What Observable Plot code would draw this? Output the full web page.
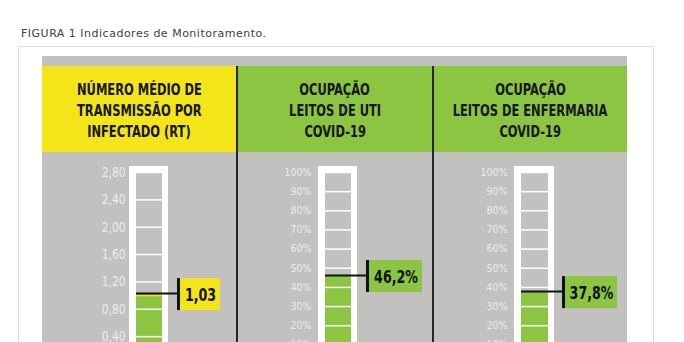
<!DOCTYPE html>
<html><head><meta charset="utf-8">
<script src="https://cdn.jsdelivr.net/npm/d3@7"></script>
<script src="https://cdn.jsdelivr.net/npm/@observablehq/plot@0.6"></script>
<style>
html,body{margin:0;padding:0;background:#fff;}
body{width:684px;height:342px;overflow:hidden;position:relative;font-family:"DejaVu Sans Condensed",sans-serif;}
.abs{position:absolute;}
#title{left:21px;top:27px;font-size:11px;letter-spacing:0.5px;color:#404040;font-family:"DejaVu Sans",sans-serif;white-space:nowrap;}
#border{left:18px;top:46px;width:634px;height:320px;border:1px solid #dcdcdc;}
#panel{left:42px;top:56px;width:585px;height:300px;background:#c2c1bf;}
.head{top:66px;height:86px;box-sizing:border-box;padding-top:14px;text-align:center;font-weight:bold;font-size:15px;line-height:21px;color:#161616;white-space:nowrap;}
.head span{display:inline-block;transform:scaleX(0.85);transform-origin:center;}
.div{top:66px;width:2px;height:290px;background:#262626;}
.chart{top:152px;}
</style></head>
<body>
<div id="title" class="abs">FIGURA 1 Indicadores de Monitoramento.</div>
<div id="border" class="abs"></div>
<div id="panel" class="abs"></div>
<div id="root"></div>
<script>
// ---- data ----
const headers = [
  ["NÚMERO MÉDIO DE", "TRANSMISSÃO POR", "INFECTADO (RT)"],
  ["OCUPAÇÃO", "LEITOS DE UTI", "COVID-19"],
  ["OCUPAÇÃO", "LEITOS DE ENFERMARIA", "COVID-19"]
];
const indicatorKeys = ["rt", "uti", "enfermaria"];
const values = [1.03, 46.2, 37.8];
const valueLabels = ["1,03", "46,2%", "37,8%"];
const scaleMax = [2.8, 100, 100];
const rtTicks = [0.4, 0.8, 1.2, 1.6, 2.0, 2.4, 2.8];
const rtTickLabels = ["0,40", "0,80", "1,20", "1,60", "2,00", "2,40", "2,80"];
const pctTicks = [10, 20, 30, 40, 50, 60, 70, 80, 90, 100];
const pctTickLabels = ["10%", "20%", "30%", "40%", "50%", "60%", "70%", "80%", "90%", "100%"];

// ---- styles / layout ----
const YELLOW = "#f3e51a", GREEN = "#8cc542", GRAY = "#c2c1bf";
const cols = [
  {left: 42, width: 194, headBg: YELLOW, bandL: 94, bandR: 120, labelR: 83, markX: 136, boxR: 178, tickFont: 13.5, tickSquash: 0.88, accent: YELLOW, ticks: rtTicks, tickLabels: rtTickLabels, topLine: true},
  {left: 238, width: 194, headBg: GREEN, bandL: 87, bandR: 113, labelR: 73, markX: 129, boxR: 184, tickFont: 10.5, tickSquash: 1, accent: GREEN, ticks: pctTicks, tickLabels: pctTickLabels},
  {left: 434, width: 193, headBg: GREEN, bandL: 87, bandR: 114, labelR: 73, markX: 129, boxR: 183, tickFont: 10.5, tickSquash: 1, accent: GREEN, ticks: pctTicks, tickLabels: pctTickLabels}
];
const FONT = '"DejaVu Sans Condensed",sans-serif';

function squash(svg, texts, f) {
  if (f === 1) return;
  d3.select(svg).selectAll("text").each(function() {
    if (texts.includes(this.textContent)) {
      const w = this.getComputedTextLength();
      this.setAttribute("textLength", (w * f).toFixed(2));
      this.setAttribute("lengthAdjust", "spacingAndGlyphs");
    }
  });
}

const root = document.getElementById("root");
cols.forEach((c, k) => {
  const h = document.createElement("div");
  h.className = "abs head";
  h.style.left = c.left + "px";
  h.style.width = c.width + "px";
  h.style.background = c.headBg;
  h.innerHTML = headers[k].map(s => "<span>" + s + "</span>").join("<br>");
  root.appendChild(h);
  if (k > 0) {
    const d = document.createElement("div");
    d.className = "abs div";
    d.style.left = (c.left - 2) + "px";
    root.appendChild(d);
  }
  const name = indicatorKeys[k];
  const v = values[k];
  const X = () => name;
  const center = (c.bandL + c.bandR) / 2;
  const boxL = c.markX + 2;
  const marks = [
    Plot.barY([scaleMax[k]], {x: X, y: d => d, fill: "white", insetLeft: -7, insetRight: -6, insetTop: -6}),
    Plot.barY([scaleMax[k]], {x: X, y: d => d, fill: GRAY}),
    Plot.barY([v], {x: X, y: d => d, fill: GREEN}),
    Plot.tickY(c.ticks, {x: X, y: d => d, stroke: "white", strokeWidth: 1.5}),
    Plot.text(c.ticks, {x: X, y: d => d, text: (d, i) => c.tickLabels[i], textAnchor: "end", dx: c.labelR - center, fill: "#ececec", fontSize: c.tickFont, fontFamily: FONT})
  ];
  if (c.topLine) marks.push(Plot.tickY([v], {x: X, y: d => d, stroke: YELLOW, strokeWidth: 1.5, dy: 2}));
  marks.push(
    Plot.tickY([v], {x: X, y: d => d, stroke: "#111", strokeWidth: 2, insetRight: c.bandR - c.markX}),
    Plot.barY([v], {x: X, y1: d => d, y2: d => d, fill: "#111", insetLeft: c.markX - 1 - c.bandL, insetRight: c.bandR - (c.markX + 2), insetTop: -15, insetBottom: -17}),
    Plot.barY([v], {x: X, y1: d => d, y2: d => d, fill: c.accent, insetLeft: boxL - c.bandL, insetRight: c.bandR - c.boxR, insetTop: -15, insetBottom: -17}),
    Plot.text([v], {x: X, y: d => d, text: (d, i) => valueLabels[k], dx: (boxL + c.boxR) / 2 - center, dy: 1.5, fontSize: 18, fontWeight: "bold", fill: "#111", fontFamily: FONT})
  );
  const svg = Plot.plot({
    width: c.width,
    height: 230,
    margin: 0,
    x: {type: "band", domain: [name], range: [c.bandL, c.bandR], padding: 0, axis: null},
    y: {domain: [0, scaleMax[k]], range: [211.5, 20], axis: null},
    style: {background: "transparent", overflow: "visible", fontFamily: FONT},
    marks
  });
  const wrap = document.createElement("div");
  wrap.className = "abs chart";
  wrap.style.left = c.left + "px";
  wrap.appendChild(svg);
  root.appendChild(wrap);
  squash(svg, [valueLabels[k]], 0.78);
  squash(svg, c.tickLabels, c.tickSquash);
});
</script>
</body></html>
